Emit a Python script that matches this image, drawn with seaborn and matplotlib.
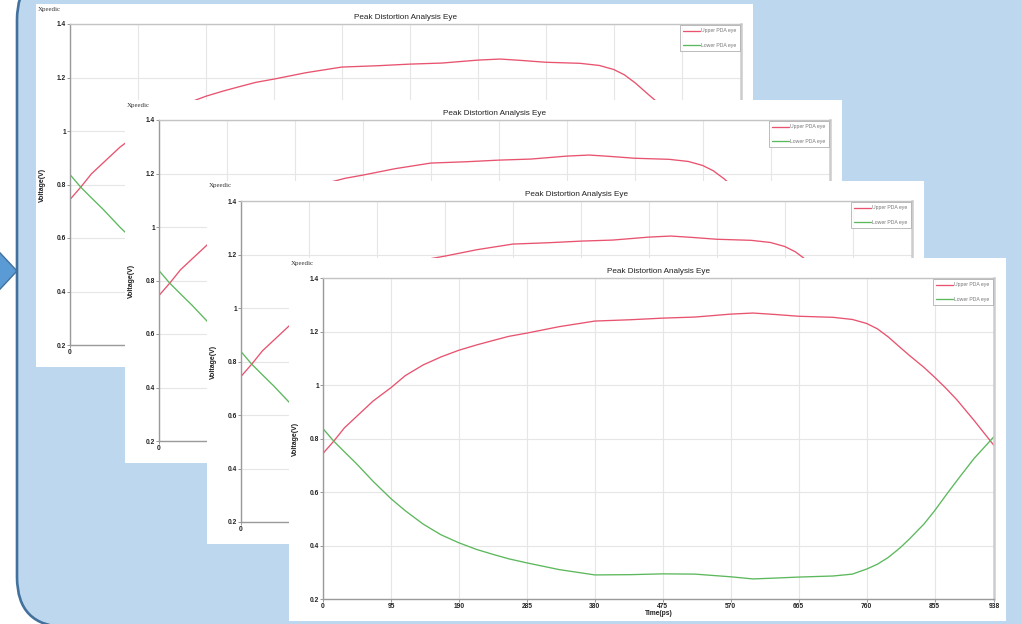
import matplotlib
matplotlib.use("Agg")
import matplotlib.pyplot as plt
from matplotlib.patches import FancyBboxPatch, Polygon
import pandas as pd
import seaborn as sns

# Peak distortion analysis eye contours (time in ps, voltage in V)
time_ps = [0, 15, 30, 46, 70, 95, 115, 140, 165, 190, 215, 240, 260, 285, 330,
           380, 430, 475, 520, 570, 601, 630, 665, 713, 740, 760, 775, 790,
           807, 820, 840, 855, 870, 886, 910, 938]
upper_eye = [0.744, 0.79, 0.84, 0.88, 0.94, 0.99, 1.035, 1.075, 1.105, 1.13,
             1.15, 1.168, 1.182, 1.194, 1.218, 1.239, 1.244, 1.25, 1.254,
             1.265, 1.269, 1.264, 1.257, 1.253, 1.245, 1.23, 1.21, 1.18,
             1.14, 1.11, 1.066, 1.029, 0.99, 0.945, 0.868, 0.774]
lower_eye = [0.837, 0.79, 0.75, 0.708, 0.64, 0.575, 0.53, 0.48, 0.44, 0.41,
             0.385, 0.365, 0.35, 0.335, 0.31, 0.29, 0.291, 0.294, 0.293,
             0.283, 0.275, 0.278, 0.282, 0.286, 0.293, 0.312, 0.33, 0.355,
             0.392, 0.425, 0.48, 0.53, 0.585, 0.642, 0.725, 0.807]

series_names = ["Upper PDA eye", "Lower PDA eye"]
series_colors = ["#e8536f", "#5cb85c"]
x_ticks = [0, 95, 190, 285, 380, 475, 570, 665, 760, 855, 938]
y_ticks = [0.2, 0.4, 0.6, 0.8, 1.0, 1.2, 1.4]
y_tick_labels = ["0.2", "0.4", "0.6", "0.8", "1", "1.2", "1.4"]
title_text = "Peak Distortion Analysis Eye"
brand_text = "Xpeedic"
x_label = "Time(ps)"
y_label = "Voltage(V)"

df = pd.DataFrame({
    "Time": time_ps * 2,
    "Voltage": upper_eye + lower_eye,
    "Series": [series_names[0]] * len(time_ps) + [series_names[1]] * len(time_ps),
})

sns.set_theme(style="white")
plt.rcParams["font.family"] = ["Liberation Sans", "DejaVu Sans"]

W, H = 1021, 624
fig = plt.figure(figsize=(W / 100, H / 100), dpi=100)
fig.patch.set_facecolor("white")


def px_rect(x, y, w, h):
    return [x / W, 1 - (y + h) / H, w / W, h / H]


# slide backdrop: rounded light-blue frame with a pointer arrow on the left
bg = fig.add_axes([0, 0, 1, 1])
bg.set_xlim(0, W)
bg.set_ylim(H, 0)
bg.set_axis_off()
bg.add_patch(Polygon([(-12, 240), (17, 271), (-12, 302)], closed=True,
                     facecolor="#5b9bd5", edgecolor="#41719c", lw=1.0, zorder=1))
bg.add_patch(FancyBboxPatch((17, -30), 1150, 657,
                            boxstyle="round,pad=0,rounding_size=50",
                            facecolor="#bdd7ee", edgecolor="#41719c",
                            lw=1.9, zorder=2))

# stacked chart snapshots, back to front
panel_origins = [(36, 4), (125, 100), (207, 181), (289, 258)]
PW, PH = 717, 363
AX_L, AX_T, AX_R, AX_B = 34, 20, 12, 22

for (px, py) in panel_origins:
    pax = fig.add_axes(px_rect(px, py, PW, PH))
    pax.set_facecolor("white")
    pax.set_xticks([])
    pax.set_yticks([])
    for s in pax.spines.values():
        s.set_visible(False)
    pax.text(2 / PW, 1 - 5 / PH, brand_text, transform=pax.transAxes,
             ha="left", va="center", fontsize=5.0, color="#333333",
             family=["Liberation Serif", "DejaVu Serif"])

    ax = fig.add_axes(px_rect(px + AX_L, py + AX_T,
                              PW - AX_L - AX_R, PH - AX_T - AX_B))
    ax.set_facecolor("white")
    sns.lineplot(data=df, x="Time", y="Voltage", hue="Series",
                 palette=series_colors, hue_order=series_names,
                 linewidth=0.95, ax=ax)
    ax.set_xlim(0, 938)
    ax.set_ylim(0.2, 1.4)
    ax.set_xticks(x_ticks)
    ax.set_yticks(y_ticks)
    ax.set_yticklabels(y_tick_labels)
    ax.grid(True, color="#e6e6e6", lw=0.8)
    ax.set_axisbelow(True)
    ax.tick_params(axis="both", labelsize=4.8, colors="#222222", length=2,
                   width=0.6, pad=1, left=True, bottom=True)
    for lab in ax.get_xticklabels() + ax.get_yticklabels():
        lab.set_fontweight("bold")
    ax.tick_params(axis="both", color="#888888")

    ax.spines["left"].set_color("#9a9a9a")
    ax.spines["bottom"].set_color("#9a9a9a")
    ax.spines["left"].set_linewidth(1.0)
    ax.spines["bottom"].set_linewidth(1.0)
    ax.spines["top"].set_color("#c4c4c4")
    ax.spines["top"].set_linewidth(1.0)
    ax.spines["right"].set_color("#cccccc")
    ax.spines["right"].set_linewidth(1.8)

    ax.set_title(title_text, fontsize=5.9, color="#222222", pad=3.5)
    ax.set_xlabel(x_label, fontsize=4.8, fontweight="bold", color="#222222")
    ax.set_ylabel(y_label, fontsize=5.0, fontweight="bold", color="#222222")
    ax.xaxis.set_label_coords(0.5, -0.034)
    ax.yaxis.set_label_coords(-0.036, 0.5)

    old = ax.get_legend()
    handles = old.legend_handles
    labels = [t.get_text() for t in old.get_texts()]
    leg = ax.legend(handles, labels, loc="upper right", fontsize=3.7,
                    frameon=True, fancybox=False, edgecolor="#aaaaaa",
                    borderaxespad=0.25, handlelength=3.2, handletextpad=0.3,
                    labelspacing=1.9, borderpad=0.6, labelcolor="#777777")
    leg.get_frame().set_linewidth(0.7)

fig.savefig("out.png", dpi=100, facecolor="white")
